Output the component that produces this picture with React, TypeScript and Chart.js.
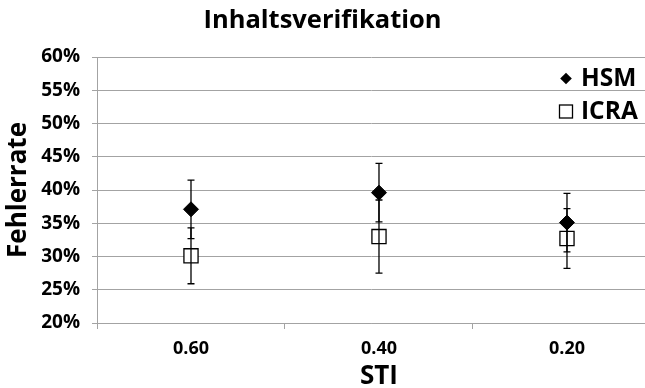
import { useEffect, useRef } from 'react';
import { Chart, registerables } from 'chart.js';

Chart.register(...registerables);

const categories = ['0.60', '0.40', '0.20'];
const hsmValues = [37.1, 39.6, 35.1];
const hsmErrors = [4.4, 4.4, 4.4];
const icraValues = [30.1, 33.0, 32.7];
const icraErrors = [4.2, 5.5, 4.5];
const seriesNames = ['HSM', 'ICRA'];
const yMin = 20;
const yMax = 60;
const yStep = 5;
const xAxisTitle = 'STI';
const yAxisTitle = 'Fehlerrate';
const chartTitle = 'Inhaltsverifikation';

const FONT = "'Open Sans', sans-serif";
const GRID = '#a3a3a3';
// visible share of the category axis (the right part of the last category is cut off)
const X_VISIBLE = 2.915;

const errorBarPlugin = {
  id: 'errorBars',
  afterDatasetsDraw(chart: any) {
    const ctx = chart.ctx;
    const y = chart.scales.y;
    chart.data.datasets.forEach((ds: any, di: number) => {
      const meta = chart.getDatasetMeta(di);
      ds.data.forEach((pt: any, i: number) => {
        const e = ds.errors[i];
        const px = meta.data[i].x;
        const top = y.getPixelForValue(pt.y + e);
        const bot = y.getPixelForValue(pt.y - e);
        ctx.save();
        ctx.strokeStyle = '#000';
        ctx.lineWidth = 1.3;
        ctx.beginPath();
        ctx.moveTo(px, top);
        ctx.lineTo(px, bot);
        ctx.moveTo(px - 3.5, top);
        ctx.lineTo(px + 3.5, top);
        ctx.moveTo(px - 3.5, bot);
        ctx.lineTo(px + 3.5, bot);
        ctx.stroke();
        ctx.restore();
      });
    });
  },
};

const legendAndTitlePlugin = {
  id: 'customLegend',
  afterDraw(chart: any) {
    const ctx = chart.ctx;
    const area = chart.chartArea;
    ctx.save();
    ctx.fillStyle = '#000';
    ctx.strokeStyle = '#000';
    ctx.font = `bold 24.5px ${FONT}`;
    ctx.textBaseline = 'middle';
    ctx.textAlign = 'left';
    const rows = [area.top + 21.5, area.top + 54.5];
    chart.data.datasets.forEach((ds: any, i: number) => {
      const cy = rows[i];
      const mx = area.right - 79;
      if (ds.pointStyle === 'rectRot') {
        ctx.beginPath();
        ctx.moveTo(mx, cy - 5.8);
        ctx.lineTo(mx + 5.8, cy);
        ctx.lineTo(mx, cy + 5.8);
        ctx.lineTo(mx - 5.8, cy);
        ctx.closePath();
        ctx.fill();
      } else {
        ctx.fillStyle = '#fff';
        ctx.fillRect(mx - 6.5, cy - 6.5, 13, 13);
        ctx.lineWidth = 1.3;
        ctx.strokeRect(mx - 6.5, cy - 6.5, 13, 13);
        ctx.fillStyle = '#000';
      }
      ctx.fillText(ds.label, area.right - 64, cy + 1);
    });
    // x axis title centred under the full category band
    const xs = chart.scales.x;
    ctx.textAlign = 'center';
    ctx.font = `bold 26px ${FONT}`;
    ctx.fillText(xAxisTitle, xs.getPixelForValue(categories.length / 2), 377);
    ctx.restore();
  },
};

export default function App() {
  const ref = useRef<HTMLCanvasElement | null>(null);
  useEffect(() => {
    if (!ref.current) return;
    const chart = new Chart(ref.current, {
      type: 'scatter',
      data: {
        datasets: [
          {
            label: seriesNames[0],
            data: hsmValues.map((v, i) => ({ x: i + 0.5, y: v })),
            errors: hsmErrors,
            pointStyle: 'rectRot',
            pointRadius: 7.5,
            backgroundColor: '#000',
            borderColor: '#000',
            borderWidth: 1,
          } as any,
          {
            label: seriesNames[1],
            data: icraValues.map((v, i) => ({ x: i + 0.5, y: v })),
            errors: icraErrors,
            pointStyle: 'rect',
            pointRadius: 10,
            backgroundColor: '#fff',
            borderColor: '#000',
            borderWidth: 1.3,
          } as any,
        ],
      },
      options: {
        animation: false,
        responsive: true,
        maintainAspectRatio: false,
        layout: { padding: 0, autoPadding: false },
        plugins: {
          legend: { display: false },
          tooltip: { enabled: false },
          title: {
            display: true,
            text: chartTitle,
            color: '#000',
            font: { family: FONT, size: 25.5, weight: 'bold' },
            padding: { top: 5, bottom: 21.4 },
          },
        },
        scales: {
          x: {
            type: 'linear',
            min: 0,
            max: X_VISIBLE,
            afterBuildTicks: (s: any) => {
              s.ticks = categories.map((_, i) => ({ value: i + 0.5 }));
            },
            afterFit: (s: any) => {
              s.height = 65;
              s.paddingLeft = 0;
              s.paddingRight = 0;
            },
            ticks: {
              autoSkip: false,
              maxRotation: 0,
              padding: 9,
              color: '#000',
              font: { family: FONT, size: 18, weight: 'bold' },
              callback: (v: any) => categories[Math.round(Number(v) - 0.5)] ?? '',
            },
            grid: {
              offset: true,
              drawOnChartArea: false,
              drawTicks: true,
              tickLength: 6,
              color: GRID,
            },
            border: { color: GRID, width: 1 },
          },
          y: {
            min: yMin,
            max: yMax,
            afterFit: (s: any) => {
              s.width = 97;
            },
            ticks: {
              stepSize: yStep,
              padding: 12,
              color: '#000',
              font: { family: FONT, size: 19, weight: 'bold' },
              callback: (v: any) => `${v}%`,
            },
            grid: { color: GRID, tickLength: 5, lineWidth: 1 },
            border: { color: GRID, width: 1 },
            title: {
              display: true,
              text: yAxisTitle,
              color: '#000',
              font: { family: FONT, size: 26, weight: 'bold' },
              padding: { top: 3, bottom: 0 },
            },
          },
        },
      },
      plugins: [errorBarPlugin, legendAndTitlePlugin],
    } as any);
    return () => chart.destroy();
  }, []);
  return (
    <div style={{ position: 'fixed', left: 0, top: 0, width: 645, height: 388, background: '#fff' }}>
      <canvas ref={ref} />
    </div>
  );
}
